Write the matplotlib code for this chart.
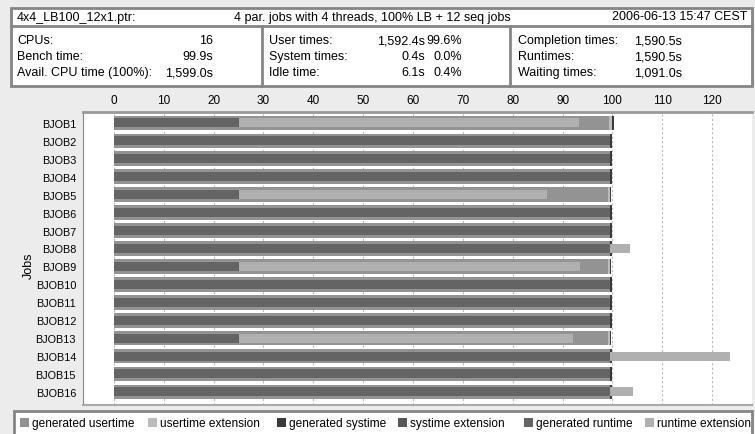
import matplotlib.pyplot as plt
from matplotlib.patches import Rectangle
from matplotlib.lines import Line2D

W, H = 755, 435

jobs = ["BJOB%d" % i for i in range(1, 17)]
# outer bar: user time
user_gen = [99.4, 99.6, 99.6, 99.6, 99.2, 99.6, 99.6, 99.6, 99.2, 99.6, 99.6, 99.6, 99.2, 99.6, 99.6, 99.6]
user_ext = [0.6, 0, 0, 0, 0.3, 0, 0, 0, 0.3, 0, 0, 0, 0.3, 0, 0, 0]
sys_gen = [0.3] * 16
# inner bar: runtime
run_gen = [25.0, 99.6, 99.6, 99.6, 25.0, 99.6, 99.6, 99.6, 25.0, 99.6, 99.6, 99.6, 25.0, 99.6, 99.6, 99.6]
run_end = [93.2, 99.6, 99.6, 99.6, 86.8, 99.6, 99.6, 103.6, 93.4, 99.6, 99.6, 99.6, 92.0, 123.6, 99.6, 104.2]
xticks = list(range(0, 130, 10))

c_user, c_userx = "#939393", "#bcbcbc"
c_sys, c_sysx = "#3a3a3a", "#585858"
c_run, c_runx = "#646464", "#b0b0b0"


def fx(px):
    return px / W


def fy(py):
    return 1 - py / H


fig = plt.figure(figsize=(7.55, 4.35), dpi=100, facecolor="#ececec")
plt.rcParams["font.family"] = ["Liberation Sans", "DejaVu Sans"]

# header table
edge = "#858585"
fig.add_artist(Rectangle((fx(11), fy(87)), fx(752) - fx(11), fy(9) - fy(87),
                         transform=fig.transFigure, fc="white", ec=edge, lw=2))
fig.add_artist(Line2D([fx(11), fx(752)], [fy(27), fy(27)], transform=fig.transFigure, color=edge, lw=2))
for xv in (262, 510):
    fig.add_artist(Line2D([fx(xv), fx(xv)], [fy(27), fy(87)], transform=fig.transFigure, color=edge, lw=2))

fs = 9
fig.text(fx(17), fy(17.5), "4x4_LB100_12x1.ptr:", fontsize=fs, va="center")
fig.text(fx(372), fy(17.5), "4 par. jobs with 4 threads, 100% LB + 12 seq jobs", fontsize=fs, va="center", ha="center")
fig.text(fx(747), fy(17.5), "2006-06-13 15:47 CEST", fontsize=fs, va="center", ha="right")

rows_y = [41, 57, 73]
col1 = [("CPUs:", "16"), ("Bench time:", "99.9s"), ("Avail. CPU time (100%):", "1,599.0s")]
col2 = [("User times:", "1,592.4s", "99.6%"), ("System times:", "0.4s", "0.0%"), ("Idle time:", "6.1s", "0.4%")]
col3 = [("Completion times:", "1,590.5s"), ("Runtimes:", "1,590.5s"), ("Waiting times:", "1,091.0s")]
for ry, (a, b) in zip(rows_y, col1):
    fig.text(fx(17), fy(ry), a, fontsize=fs, va="center")
    fig.text(fx(213), fy(ry), b, fontsize=fs, va="center", ha="right")
for ry, (a, b, c) in zip(rows_y, col2):
    fig.text(fx(269), fy(ry), a, fontsize=fs, va="center")
    fig.text(fx(425), fy(ry), b, fontsize=fs, va="center", ha="right")
    fig.text(fx(462), fy(ry), c, fontsize=fs, va="center", ha="right")
for ry, (a, b) in zip(rows_y, col3):
    fig.text(fx(518), fy(ry), a, fontsize=fs, va="center")
    fig.text(fx(634), fy(ry), b, fontsize=fs, va="center")

# chart
ax = fig.add_axes([fx(83), fy(406), fx(752) - fx(83), fy(113) - fy(406)])
ax.set_facecolor("white")
ypos = list(range(len(jobs)))
oh, ih = 0.82, 0.5
sys_left = [u + e for u, e in zip(user_gen, user_ext)]
run_ext_w = [e - g for g, e in zip(run_gen, run_end)]

ax.barh(ypos, user_gen, height=oh, color=c_user, zorder=2)
ax.barh(ypos, user_ext, left=user_gen, height=oh, color=c_userx, zorder=2)
ax.barh(ypos, sys_gen, left=sys_left, height=oh, color=c_sys, zorder=3)
ax.barh(ypos, run_gen, height=ih, color=c_run, zorder=4)
ax.barh(ypos, run_ext_w, left=run_gen, height=ih, color=c_runx, zorder=4)

ax.set_xlim(-6.2, 128)
ax.set_ylim(15.73, -0.61)
ax.set_yticks(ypos)
ax.set_yticklabels(jobs)
ax.set_xticks(xticks)
ax.xaxis.tick_top()
ax.tick_params(axis="x", length=0, pad=4, labelsize=8.5)
ax.tick_params(axis="y", length=0, pad=5, labelsize=7.8)
ax.grid(axis="x", linestyle=(0, (2, 2)), color="#bbbbbb", lw=0.8, zorder=0)
ax.set_axisbelow(True)
ax.set_ylabel("Jobs", fontsize=9)
ax.yaxis.set_label_coords(-0.072, 0.48)
ax.spines["right"].set_visible(False)
ax.spines["top"].set_color("#999999")
ax.spines["top"].set_linewidth(2)
ax.spines["left"].set_color("#888888")
ax.spines["bottom"].set_color("#aaaaaa")
ax.spines["bottom"].set_linewidth(1.5)

# legend box
fig.add_artist(Rectangle((fx(14), fy(440)), fx(752) - fx(14), fy(412) - fy(440),
                         transform=fig.transFigure, fc="white", ec=edge, lw=2))
leg_items = [("generated usertime", c_user, 20), ("usertime extension", c_userx, 148),
             ("generated systime", c_sys, 277), ("systime extension", c_sysx, 398),
             ("generated runtime", c_run, 524), ("runtime extension", c_runx, 645)]
for lab, col, px in leg_items:
    fig.add_artist(Rectangle((fx(px), fy(428)), fx(9), fy(419) - fy(428),
                             transform=fig.transFigure, fc=col, ec="none"))
    fig.text(fx(px + 12), fy(424), lab, fontsize=8.6, va="center")

fig.savefig("out.png", dpi=100, facecolor=fig.get_facecolor())
